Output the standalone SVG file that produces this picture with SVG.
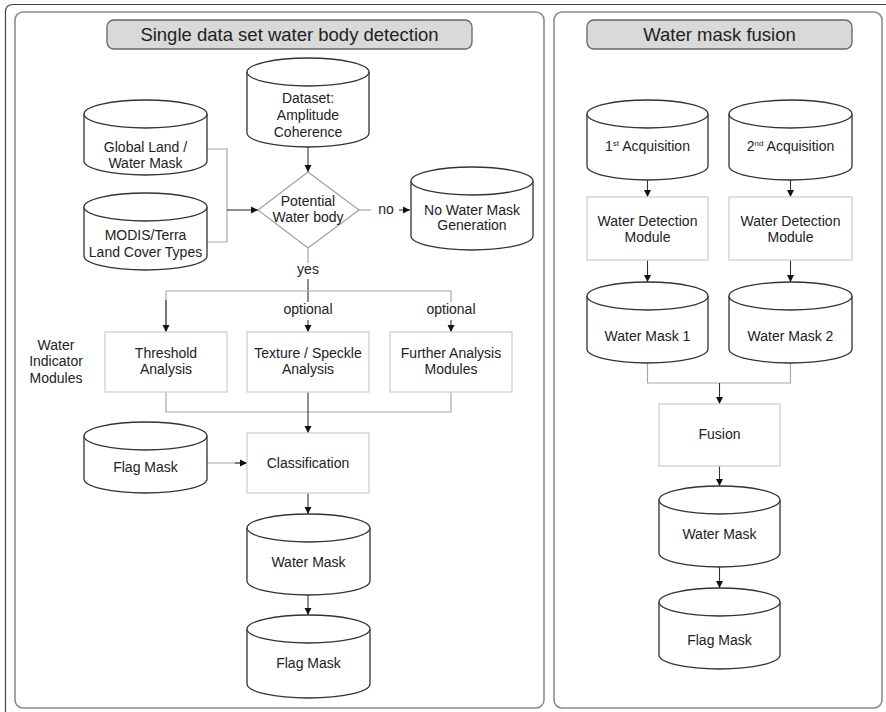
<svg xmlns="http://www.w3.org/2000/svg" width="886" height="712" viewBox="0 0 886 712">
<defs>
<marker id="ah" markerUnits="userSpaceOnUse" markerWidth="8" markerHeight="8" refX="7" refY="4" orient="auto">
<path d="M0,0.5 L7,4 L0,7.5 Z" fill="#111"/>
</marker>
<style>
text{font-family:"Liberation Sans",Arial,sans-serif;fill:#222;text-anchor:middle}
.t{font-size:14px}
.title{font-size:18.5px}
.cyl{fill:#fff;stroke:#333;stroke-width:1.3}
.box{fill:#fff;stroke:#cfcfcf;stroke-width:1.3}
.dia{fill:#fff;stroke:#a0a0a0;stroke-width:1.2}
.panel{fill:#fff;stroke:#8c8c8c;stroke-width:1.6}
.tb{fill:#d9d9d9;stroke:#666;stroke-width:1.3}
.g{fill:none;stroke:#a8a8a8;stroke-width:1.2}
.k{fill:none;stroke:#333;stroke-width:1.1}
.a{fill:none;stroke:#333;stroke-width:1.1;marker-end:url(#ah)}
</style>
</defs>
<rect width="886" height="712" fill="#fff"/>
<path d="M5.5,712 V12 Q5.5,4.5 13,4.5 H886" fill="none" stroke="#444" stroke-width="1.2"/>

<g id="panel-left">
<rect class="panel" x="15" y="12" width="529" height="696" rx="8"/>
<rect class="tb" x="107" y="20" width="365" height="29" rx="7"/>
<text class="title" x="289.5" y="41">Single data set water body detection</text>
</g>
<g id="panel-right">
<rect class="panel" x="554" y="12" width="328" height="696" rx="8"/>
<rect class="tb" x="587" y="20" width="265" height="29" rx="7"/>
<text class="title" x="719.5" y="41">Water mask fusion</text>
</g>

<g id="connectors">
<path class="a" d="M308,147 V172"/>
<path class="g" d="M207,149 H227 V242 H207"/>
<path class="a" d="M227,210 H258"/>
<path class="g" d="M359,210 H371"/>
<path class="a" d="M399,210 H410"/>
<path class="g" d="M308,248 V263"/>
<path class="k" d="M308,279 V302"/>
<path class="a" d="M308,320 V332"/>
<path class="g" d="M166,332 V291 H451 V302"/>
<path class="a" d="M166,300 V332"/>
<path class="a" d="M451,320 V332"/>
<path class="g" d="M166,392 V412 H451 V392"/>
<path class="a" d="M308,392 V433"/>
<path class="g" d="M207,463 H240"/>
<path class="a" d="M235,463 H247"/>
<path class="a" d="M308,493 V514"/>
<path class="a" d="M308,595 V615"/>
<path class="a" d="M647.5,180 V197"/>
<path class="a" d="M790.5,180 V197"/>
<path class="a" d="M647.5,260 V282"/>
<path class="a" d="M790.5,260 V282"/>
<path class="g" d="M647.5,363 V383 H790.5 V363"/>
<path class="a" d="M719.5,383 V404"/>
<path class="a" d="M719.5,466 V486"/>
<path class="a" d="M719.5,567 V588"/>
</g>

<g id="labels">
<text class="t" x="386" y="214">no</text>
<text class="t" x="308" y="274">yes</text>
<text class="t" x="308" y="314">optional</text>
<text class="t" x="451" y="314">optional</text>
<text class="t" x="56" y="350">Water</text>
<text class="t" x="56" y="366">Indicator</text>
<text class="t" x="56" y="383">Modules</text>
</g>

<g id="dataset">
<path class="cyl" d="M247,72 V133 A61,14 0 0 0 369,133 V72"/>
<ellipse class="cyl" cx="308" cy="72" rx="61" ry="14"/>
<text class="t" x="308" y="103">Dataset:</text>
<text class="t" x="308" y="120">Amplitude</text>
<text class="t" x="308" y="137">Coherence</text>
</g>
<g id="global-land">
<path class="cyl" d="M84,114 V161 A61.5,14 0 0 0 207,161 V114"/>
<ellipse class="cyl" cx="145.5" cy="114" rx="61.5" ry="14"/>
<text class="t" x="145.5" y="152">Global Land /</text>
<text class="t" x="145.5" y="168">Water Mask</text>
</g>
<g id="modis">
<path class="cyl" d="M84,207 V256 A61.5,14 0 0 0 207,256 V207"/>
<ellipse class="cyl" cx="145.5" cy="207" rx="61.5" ry="14"/>
<text class="t" x="145.5" y="240">MODIS/Terra</text>
<text class="t" x="145.5" y="257">Land Cover Types</text>
</g>
<g id="potential">
<path class="dia" d="M308,172 L359,210 L308,248 L258,210 Z"/>
<text class="t" x="308" y="206">Potential</text>
<text class="t" x="308" y="222">Water body</text>
</g>
<g id="no-water">
<path class="cyl" d="M411,181 V236 A61,14 0 0 0 533,236 V181"/>
<ellipse class="cyl" cx="472" cy="181" rx="61" ry="14"/>
<text class="t" x="472" y="215">No Water Mask</text>
<text class="t" x="472" y="230">Generation</text>
</g>
<g id="threshold">
<rect class="box" x="105" y="332" width="122" height="60"/>
<text class="t" x="166" y="358">Threshold</text>
<text class="t" x="166" y="374">Analysis</text>
</g>
<g id="texture">
<rect class="box" x="247" y="332" width="122" height="60"/>
<text class="t" x="308" y="358">Texture / Speckle</text>
<text class="t" x="308" y="374">Analysis</text>
</g>
<g id="further">
<rect class="box" x="390" y="332" width="122" height="60"/>
<text class="t" x="451" y="358">Further Analysis</text>
<text class="t" x="451" y="374">Modules</text>
</g>
<g id="flag-left">
<path class="cyl" d="M84,436 V479 A61.5,14 0 0 0 207,479 V436"/>
<ellipse class="cyl" cx="145.5" cy="436" rx="61.5" ry="14"/>
<text class="t" x="145.5" y="472">Flag Mask</text>
</g>
<g id="classification">
<rect class="box" x="247" y="433" width="122" height="60"/>
<text class="t" x="308" y="468">Classification</text>
</g>
<g id="water-mask-left">
<path class="cyl" d="M247,528 V581 A61.5,14 0 0 0 370,581 V528"/>
<ellipse class="cyl" cx="308.5" cy="528" rx="61.5" ry="14"/>
<text class="t" x="308.5" y="567">Water Mask</text>
</g>
<g id="flag-bottom">
<path class="cyl" d="M247,629 V684 A61.5,14 0 0 0 370,684 V629"/>
<ellipse class="cyl" cx="308.5" cy="629" rx="61.5" ry="14"/>
<text class="t" x="308.5" y="668">Flag Mask</text>
</g>

<g id="acq1">
<path class="cyl" d="M587,114 V166 A60.5,14 0 0 0 708,166 V114"/>
<ellipse class="cyl" cx="647.5" cy="114" rx="60.5" ry="14"/>
<text class="t" x="647.5" y="151">1<tspan font-size="8" dy="-5">st</tspan><tspan dy="5"> Acquisition</tspan></text>
</g>
<g id="acq2">
<path class="cyl" d="M729,114 V166 A61.5,14 0 0 0 852,166 V114"/>
<ellipse class="cyl" cx="790.5" cy="114" rx="61.5" ry="14"/>
<text class="t" x="790.5" y="151">2<tspan font-size="8" dy="-5">nd</tspan><tspan dy="5"> Acquisition</tspan></text>
</g>
<g id="wdm1">
<rect class="box" x="587" y="197" width="121" height="63"/>
<text class="t" x="647.5" y="226">Water Detection</text>
<text class="t" x="647.5" y="242">Module</text>
</g>
<g id="wdm2">
<rect class="box" x="729" y="197" width="123" height="63"/>
<text class="t" x="790.5" y="226">Water Detection</text>
<text class="t" x="790.5" y="242">Module</text>
</g>
<g id="wm1">
<path class="cyl" d="M587,296 V349 A60.5,14 0 0 0 708,349 V296"/>
<ellipse class="cyl" cx="647.5" cy="296" rx="60.5" ry="14"/>
<text class="t" x="647.5" y="341">Water Mask 1</text>
</g>
<g id="wm2">
<path class="cyl" d="M729,296 V349 A61.5,14 0 0 0 852,349 V296"/>
<ellipse class="cyl" cx="790.5" cy="296" rx="61.5" ry="14"/>
<text class="t" x="790.5" y="341">Water Mask 2</text>
</g>
<g id="fusion">
<rect class="box" x="659" y="404" width="121" height="62"/>
<text class="t" x="719.5" y="439">Fusion</text>
</g>
<g id="water-mask-right">
<path class="cyl" d="M659,500 V553 A60.5,14 0 0 0 780,553 V500"/>
<ellipse class="cyl" cx="719.5" cy="500" rx="60.5" ry="14"/>
<text class="t" x="719.5" y="539">Water Mask</text>
</g>
<g id="flag-right">
<path class="cyl" d="M659,602 V655 A60.5,14 0 0 0 780,655 V602"/>
<ellipse class="cyl" cx="719.5" cy="602" rx="60.5" ry="14"/>
<text class="t" x="719.5" y="645">Flag Mask</text>
</g>
</svg>
